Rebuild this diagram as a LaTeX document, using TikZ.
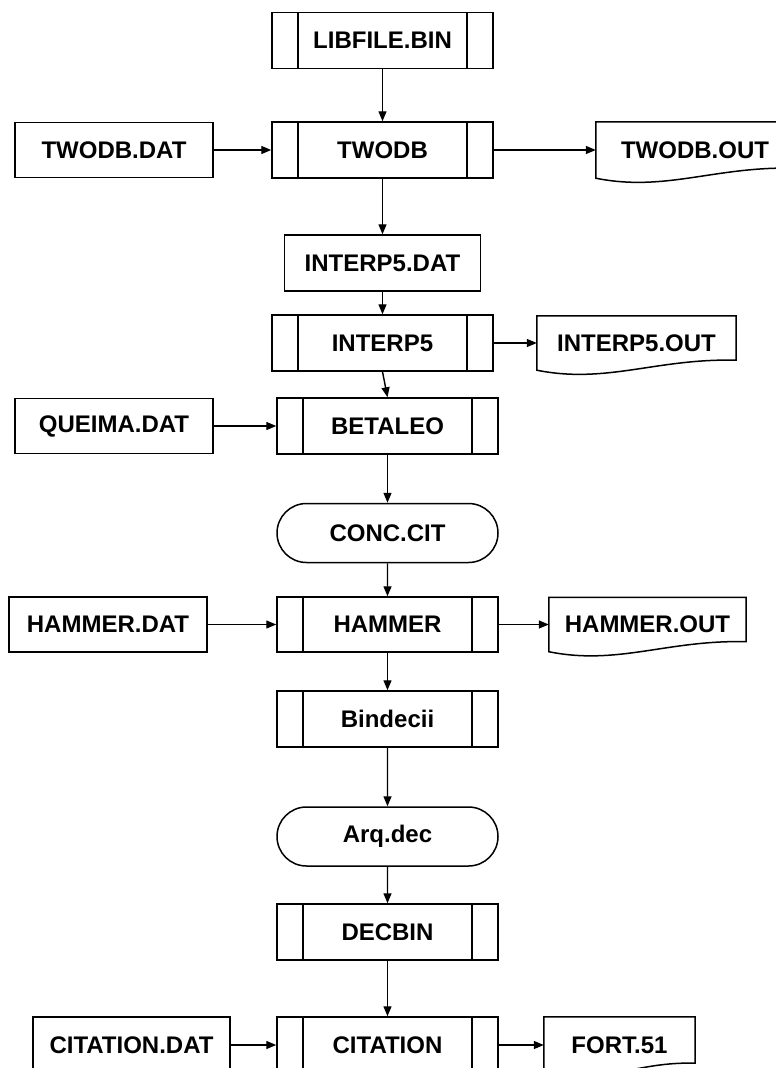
\documentclass[tikz,border=0pt]{standalone}
\usepackage{fontspec}
\setmainfont{Liberation Sans}
\usetikzlibrary{shapes.misc,arrows.meta,calc}

\newcommand{\docoutline}[1]{%
\draw [line width=1.5pt] (#1.south west) -- (#1.north west) -- (#1.north east) -- ($(#1.south east)+(0,-10)$)
  .. controls ($(#1.south west)!0.6!(#1.south east)+(0,-12)$) and ($(#1.south west)!0.35!(#1.south east)+(0,14)$) .. (#1.south west) -- cycle;}

\begin{document}
\begin{tikzpicture}[x=1pt,y=-1pt]
\tikzstyle{every node}+=[inner sep=0pt,font=\fontsize{24}{28}\selectfont\bfseries]
\tikzstyle{box}=[draw,line width=1.5pt,minimum width=198pt,minimum height=55pt]
\tikzstyle{proc}=[box,minimum width=221pt,minimum height=56pt,path picture={
  \draw [line width=1.5pt] ([xshift=26pt]path picture bounding box.north west) -- ([xshift=26pt]path picture bounding box.south west);
  \draw [line width=1.5pt] ([xshift=-26pt]path picture bounding box.north east) -- ([xshift=-26pt]path picture bounding box.south east);}]
\tikzstyle{term}=[draw,rounded rectangle,line width=1.5pt,minimum width=221pt,minimum height=59pt]
\tikzstyle{doc}=[minimum width=198pt,minimum height=54pt]
\tikzstyle{flow}=[line width=1.4pt,-{Triangle[length=10pt,width=8pt]}]
\useasboundingbox (0,0) rectangle (776,1068);
\clip (0,0) rectangle (776,1068);
\node [proc] (lib) at (382.5,40.5) {LIBFILE.BIN};
\node [proc] (twodb) at (382.5,150) {TWODB};
\node [box] (twodbdat) at (114,150) {TWODB.DAT};
\node [doc,minimum height=56pt] (twodbout) at (695,150) {TWODB.OUT};
\docoutline{twodbout}
\node [box,minimum width=196pt,minimum height=56pt] (interpdat) at (382.5,263) {INTERP5.DAT};
\node [proc] (interp) at (382.5,343) {INTERP5};
\node [doc,minimum width=199pt] (interpout) at (636.5,343) {INTERP5.OUT};
\docoutline{interpout}
\node [box] (queima) at (114,426) {QUEIMA.DAT};
\node [proc] (betaleo) at (387.5,426) {BETALEO};
\node [term] (conc) at (387.5,533) {CONC.CIT};
\node [box] (hammerdat) at (108,624.5) {HAMMER.DAT};
\node [proc,minimum height=55pt] (hammer) at (387.5,624.5) {HAMMER};
\node [doc,minimum width=197pt] (hammerout) at (647.5,624.5) {HAMMER.OUT};
\docoutline{hammerout}
\node [proc] (bindecii) at (387.5,719) {Bindecii};
\node [term] (arq) at (387.5,836.5) {Arq.dec};
\node [proc] (decbin) at (387.5,932) {DECBIN};
\node [box,minimum width=197pt,minimum height=56pt] (citdat) at (131.5,1045) {CITATION.DAT};
\node [proc] (citation) at (387.5,1045) {CITATION};
\node [doc,minimum width=151pt,minimum height=56pt] (fort) at (619.5,1045) {FORT.51};
\docoutline{fort}
\draw [flow] (lib) -- (twodb);
\draw [flow] (twodbdat) -- (twodb);
\draw [flow] (twodb) -- (twodbout);
\draw [flow] (twodb) -- (interpdat);
\draw [flow] (interpdat) -- (interp);
\draw [flow] (interp) -- (interpout);
\draw [flow] (interp.south) -- (betaleo.north);
\draw [flow] (queima) -- (betaleo);
\draw [flow] (betaleo) -- (conc);
\draw [flow] (conc) -- (hammer);
\draw [flow] (hammerdat) -- (hammer);
\draw [flow] (hammer) -- (hammerout);
\draw [flow] (hammer) -- (bindecii);
\draw [flow] (bindecii) -- (arq);
\draw [flow] (arq) -- (decbin);
\draw [flow] (decbin) -- (citation);
\draw [flow] (citdat) -- (citation);
\draw [flow] (citation) -- (fort);
\end{tikzpicture}
\end{document}
